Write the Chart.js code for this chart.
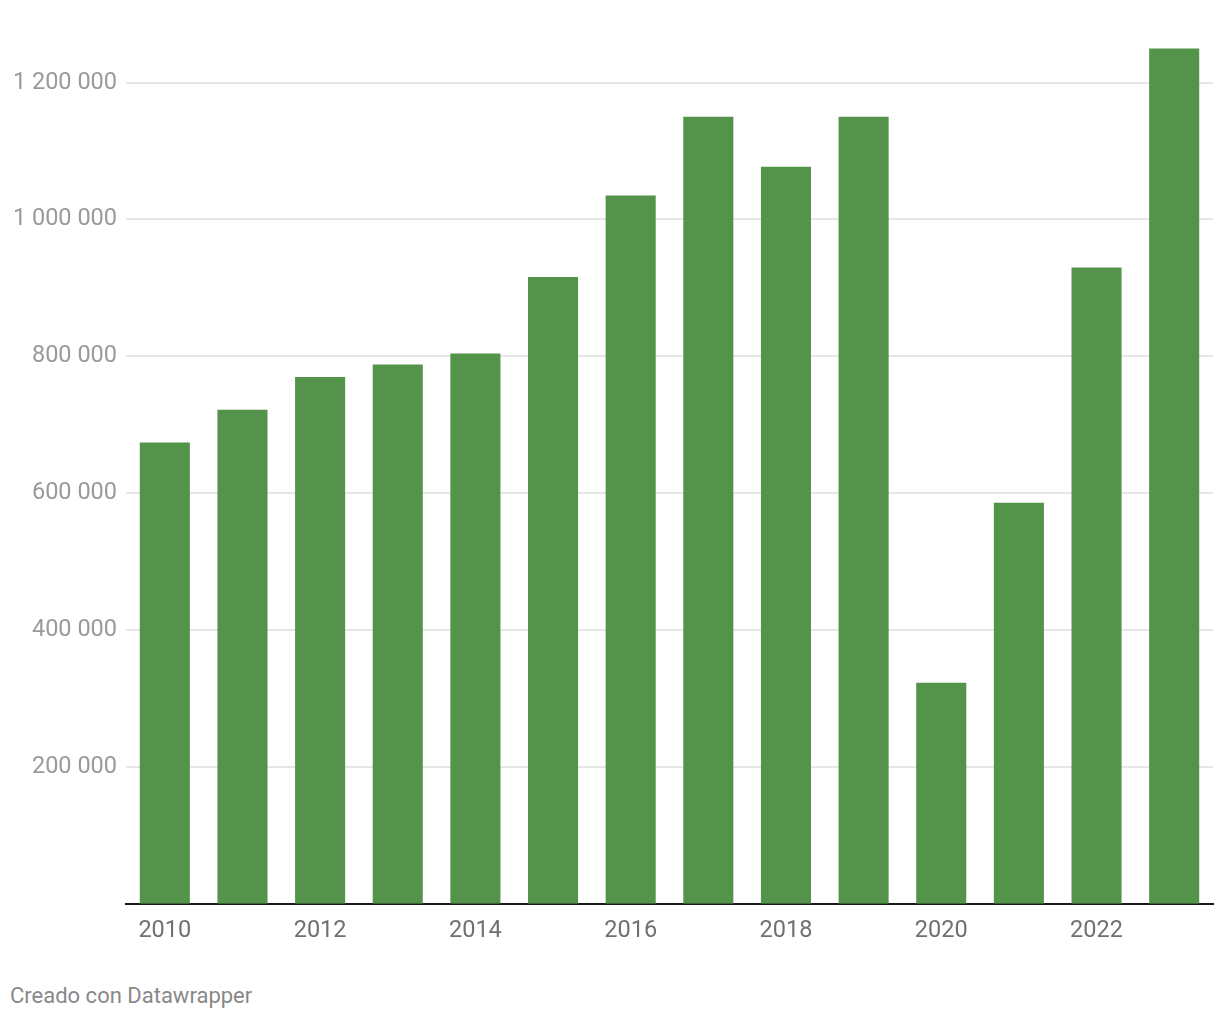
<!DOCTYPE html>
<html>
<head>
<meta charset="utf-8">
<script src="https://cdn.jsdelivr.net/npm/chart.js@4/dist/chart.umd.min.js"></script>
<style>
  html, body { margin: 0; padding: 0; background: #fff; }
  #wrap { position: relative; width: 1220px; height: 1020px; }
  #box { position: absolute; left: 0; top: 0; width: 1220px; height: 958px; }
  #foot { position: absolute; left: 10px; top: 983px; font: 22px Roboto, sans-serif; line-height: 26px; color: #888; }
</style>
</head>
<body>
<div id="wrap">
  <div id="box"><canvas id="c"></canvas></div>
  <div id="foot">Creado con Datawrapper</div>
</div>
<script>
const years = ['2010','2011','2012','2013','2014','2015','2016','2017','2018','2019','2020','2021','2022','2023'];
const visitors = [674000, 722000, 770000, 788000, 804000, 916000, 1035000, 1150000, 1077000, 1150000, 323000, 586000, 930000, 1250000];
const yTickValues = [200000, 400000, 600000, 800000, 1000000, 1200000];

function fmt(v) { return String(v).replace(/\B(?=(\d{3})+(?!\d))/g, ' '); }

new Chart(document.getElementById('c'), {
  type: 'bar',
  data: {
    labels: years,
    datasets: [{
      data: visitors,
      backgroundColor: '#54944a',
      borderWidth: 0,
      categoryPercentage: 1,
      barPercentage: 0.645
    }]
  },
  options: {
    responsive: true,
    maintainAspectRatio: false,
    animation: false,
    layout: { padding: { top: 0, right: 7, left: 0, bottom: 0 } },
    plugins: { legend: { display: false }, tooltip: { enabled: false } },
    scales: {
      x: {
        grid: { display: false, drawTicks: false },
        border: { display: true, color: '#1a1a1a', width: 2 },
        ticks: {
          autoSkip: false,
          maxRotation: 0,
          padding: 13,
          color: '#707070',
          font: { family: 'Roboto', size: 23.5 },
          callback: function(val, idx) { return idx % 2 === 0 ? this.getLabelForValue(val) : ''; }
        }
      },
      y: {
        min: 0,
        max: 1287000,
        afterBuildTicks: (s) => { s.ticks = yTickValues.map(v => ({ value: v })); },
        afterFit: (s) => { s.width = 126; },
        grid: { color: '#e6e6e6', lineWidth: 2, drawTicks: false },
        border: { display: false },
        ticks: {
          padding: 9,
          color: '#9a9a9a',
          font: { family: 'Roboto', size: 23.5 },
          callback: (v) => fmt(v)
        }
      }
    }
  }
});
</script>
</body>
</html>
